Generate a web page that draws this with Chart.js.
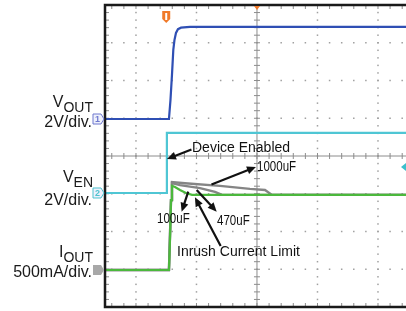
<!DOCTYPE html>
<html>
<head>
<meta charset="utf-8">
<script src="https://cdn.jsdelivr.net/npm/chart.js@4.4.1/dist/chart.umd.min.js"></script>
<style>
  html, body { margin: 0; padding: 0; background: #fff; }
  #scope { display: block; }
</style>
</head>
<body>
<canvas id="scope" width="406" height="311"></canvas>
<script>
// all values in scope divisions, centre of the screen = 0
const voutTime  = [-2.6, -1.455, -1.43, -1.405, -1.383, -1.364, -1.339, -1.306, -1.256, -1.107, 2.6];
const voutLevel = [0.98, 0.98, 1.48, 2.15, 2.81, 3.07, 3.26, 3.36, 3.40, 3.42, 3.42];

const venTime  = [-2.6, -1.49, -1.489, 2.6];
const venLevel = [-0.98, -0.98, 0.61, 0.61];

const ioutTime  = [-2.6, -1.455, -1.438, -1.421, -1.405, -1.355, -1.273, -1.174, -1.074, 2.6];
const ioutLevel = [-3.02, -3.02, -2.23, -1.17, -0.79, -0.82, -0.90, -0.98, -1.03, -1.03];

const i470Time  = [-2.6, -1.455, -1.421, -1.405, -1.273, -0.942, -0.694, -0.579, 2.6];
const i470Level = [-3.02, -3.02, -1.17, -0.72, -0.77, -0.85, -0.95, -1.03, -1.03];

const i1000Time  = [-2.6, -1.455, -1.421, -1.405, -1.19, -0.612, -0.116, 0.132, 0.248, 2.6];
const i1000Level = [-3.02, -3.02, -1.17, -0.69, -0.72, -0.79, -0.87, -0.90, -1.03, -1.03];

const channelNames   = ['V', 'V', 'I'];
const channelSubs    = ['OUT', 'EN', 'OUT'];
const channelScales  = ['2V/div.', '2V/div.', '500mA/div.'];
const channelOffsets = [0.98, -0.98, -3.02];
const channelMarks   = ['1', '2', ''];

const triggerTime = -1.5;
const triggerLevel = -0.29;

const noteTexts = ['Device Enabled', '1000uF', '100uF', '470uF', 'Inrush Current Limit'];

function pts(t, v) {
  return t.map((x, i) => ({ x: x, y: v[i] }));
}

function arrow(ctx, x1, y1, x2, y2) {
  const a = Math.atan2(y2 - y1, x2 - x1);
  const head = 9, half = 4;
  const c = Math.cos(a), s = Math.sin(a);
  ctx.beginPath();
  ctx.moveTo(x1, y1);
  ctx.lineTo(x2 - head * 0.7 * c, y2 - head * 0.7 * s);
  ctx.stroke();
  ctx.beginPath();
  ctx.moveTo(x2, y2);
  ctx.lineTo(x2 - head * c + half * s, y2 - head * s - half * c);
  ctx.lineTo(x2 - head * c - half * s, y2 - head * s + half * c);
  ctx.closePath();
  ctx.fill();
}

function drawGrid(chart) {
  const { ctx, chartArea: a, scales: { x, y } } = chart;
  ctx.save();
  ctx.fillStyle = '#a0a0a0';
  for (let gx = -2; gx <= 2; gx++) {
    if (gx === 0) continue;
    const px = x.getPixelForValue(gx);
    for (let k = -19; k <= 19; k++) {
      const py = y.getPixelForValue(k / 5);
      ctx.fillRect(px - 0.75, py - 0.75, 1.5, 1.5);
    }
  }
  for (let gy = -3; gy <= 3; gy++) {
    if (gy === 0) continue;
    const py = y.getPixelForValue(gy);
    for (let k = -14; k <= 14; k++) {
      const px = x.getPixelForValue(k / 5);
      if (px < a.left + 2 || px > a.right) continue;
      ctx.fillRect(px - 0.75, py - 0.75, 1.5, 1.5);
    }
  }
  const cx = x.getPixelForValue(0), cy = y.getPixelForValue(0);
  ctx.strokeStyle = '#8c8c8c';
  ctx.lineWidth = 1;
  ctx.beginPath();
  ctx.moveTo(cx, a.top); ctx.lineTo(cx, a.bottom);
  ctx.moveTo(a.left, cy); ctx.lineTo(a.right, cy);
  for (let k = -19; k <= 19; k++) {
    const py = y.getPixelForValue(k / 5);
    ctx.moveTo(cx - 3, py); ctx.lineTo(cx + 3, py);
    ctx.moveTo(a.left, py); ctx.lineTo(a.left + 4, py);
  }
  for (let k = -14; k <= 14; k++) {
    const px = x.getPixelForValue(k / 5);
    if (px < a.left + 2 || px > a.right) continue;
    ctx.moveTo(px, cy - 3); ctx.lineTo(px, cy + 3);
    ctx.moveTo(px, a.top); ctx.lineTo(px, a.top + 4);
    ctx.moveTo(px, a.bottom - 4); ctx.lineTo(px, a.bottom);
  }
  ctx.stroke();
  ctx.restore();
}

function drawFrame(chart) {
  const { ctx, chartArea: a } = chart;
  ctx.save();
  ctx.strokeStyle = '#1a1a1a';
  ctx.lineWidth = 2.5;
  ctx.beginPath();
  ctx.moveTo(a.right + 2, a.top);
  ctx.lineTo(a.left, a.top);
  ctx.lineTo(a.left, a.bottom);
  ctx.lineTo(a.right + 2, a.bottom);
  ctx.stroke();
  ctx.restore();
}

function drawMarkers(chart) {
  const { ctx, chartArea: a, scales: { x, y } } = chart;
  ctx.save();
  const colors = ['#6f79cf', '#4cc3cf', '#8f8f8f'];
  channelOffsets.forEach((off, i) => {
    const cy = y.getPixelForValue(off);
    const l = a.left - 12;
    ctx.beginPath();
    ctx.moveTo(l, cy - 5);
    ctx.lineTo(l + 8, cy - 5);
    ctx.lineTo(l + 11, cy);
    ctx.lineTo(l + 8, cy + 5);
    ctx.lineTo(l, cy + 5);
    ctx.closePath();
    if (channelMarks[i]) {
      ctx.fillStyle = '#eef0fb';
      ctx.fill();
      ctx.strokeStyle = colors[i];
      ctx.lineWidth = 1;
      ctx.stroke();
      ctx.fillStyle = colors[i];
      ctx.font = 'bold 9px "Liberation Sans"';
      ctx.textAlign = 'center';
      ctx.textBaseline = 'middle';
      ctx.fillText(channelMarks[i], l + 4.5, cy + 0.5);
    } else {
      ctx.fillStyle = '#a8a8a8';
      ctx.fill();
    }
  });
  // trigger position flag
  const tx = x.getPixelForValue(triggerTime);
  ctx.fillStyle = '#f07a2a';
  ctx.beginPath();
  ctx.moveTo(tx - 4, a.top + 6);
  ctx.lineTo(tx + 4, a.top + 6);
  ctx.lineTo(tx + 4, a.top + 14);
  ctx.lineTo(tx, a.top + 18);
  ctx.lineTo(tx - 4, a.top + 14);
  ctx.closePath();
  ctx.fill();
  ctx.fillStyle = '#fff';
  ctx.fillRect(tx - 1, a.top + 8, 2, 7);
  // horizontal position marker
  const cx = x.getPixelForValue(0);
  ctx.fillStyle = '#f07a2a';
  ctx.beginPath();
  ctx.moveTo(cx - 3, a.top + 1);
  ctx.lineTo(cx + 3, a.top + 1);
  ctx.lineTo(cx, a.top + 5);
  ctx.closePath();
  ctx.fill();
  // trigger level
  const ty = y.getPixelForValue(triggerLevel);
  ctx.fillStyle = '#3cbfcc';
  ctx.beginPath();
  ctx.moveTo(a.right - 5, ty);
  ctx.lineTo(a.right, ty - 4);
  ctx.lineTo(a.right, ty + 4);
  ctx.closePath();
  ctx.fill();
  ctx.restore();
}

function drawNotes(chart) {
  const { ctx, scales: { x, y } } = chart;
  const P = (t, v) => [x.getPixelForValue(t), y.getPixelForValue(v)];
  ctx.save();
  ctx.fillStyle = '#111';
  ctx.strokeStyle = '#111';
  ctx.lineWidth = 2.2;
  ctx.textBaseline = 'middle';
  ctx.textAlign = 'left';
  // capacitor labels use a condensed face, squeezed sideways
  const notes = [
    { text: noteTexts[0], size: 14, squeeze: 1,    at: [-1.074, 0.21],  from: [-1.083, 0.17],  to: [-1.488, -0.08] },
    { text: noteTexts[1], size: 15, squeeze: 0.77, at: [0.0, -0.28],    from: [-0.752, -0.755], to: [-0.017, -0.29] },
    { text: noteTexts[2], size: 15, squeeze: 0.77, at: [-1.653, -1.67], from: [-1.136, -0.945], to: [-1.245, -1.475] },
    { text: noteTexts[3], size: 15, squeeze: 0.77, at: [-0.661, -1.71], from: [-0.997, -0.90],  to: [-0.666, -1.475] },
    { text: noteTexts[4], size: 14, squeeze: 1,    at: [-1.322, -2.535], from: [-0.60, -2.385], to: [-1.025, -1.095] }
  ];
  notes.forEach(n => {
    const [a1, b1] = P(n.from[0], n.from[1]);
    const [a2, b2] = P(n.to[0], n.to[1]);
    arrow(ctx, a1, b1, a2, b2);
    const [tx, ty] = P(n.at[0], n.at[1]);
    ctx.save();
    ctx.font = n.size + 'px "Liberation Sans", Arial, sans-serif';
    ctx.translate(tx, ty);
    ctx.scale(n.squeeze, 1);
    ctx.fillText(n.text, 0, 0);
    ctx.restore();
  });
  ctx.restore();
}

function drawChannelLabels(chart) {
  const { ctx, chartArea: a, scales: { y } } = chart;
  const subDrop = [-7.5, -6, -8];
  const scaleDrop = [7.5, 12, 6.5];
  ctx.save();
  ctx.fillStyle = '#1a1a1a';
  ctx.textBaseline = 'alphabetic';
  ctx.textAlign = 'right';
  channelOffsets.forEach((off, i) => {
    const cy = y.getPixelForValue(off);
    const right = a.left - 12;
    ctx.font = '14px "Liberation Sans", Arial, sans-serif';
    const w = ctx.measureText(channelSubs[i]).width;
    ctx.fillText(channelSubs[i], right, cy + subDrop[i]);
    ctx.font = '16px "Liberation Sans", Arial, sans-serif';
    ctx.fillText(channelNames[i], right - w, cy + subDrop[i] - 5);
    ctx.fillText(channelScales[i], right - 1, cy + scaleDrop[i]);
  });
  ctx.restore();
}

const scopeDeco = {
  id: 'scopeDeco',
  beforeDatasetsDraw(chart) { drawGrid(chart); },
  afterDatasetsDraw(chart) {
    drawFrame(chart);
    drawMarkers(chart);
    drawNotes(chart);
    drawChannelLabels(chart);
  }
};

const line = (data, color, width) => ({
  data: data,
  borderColor: color,
  borderWidth: width,
  pointRadius: 0,
  tension: 0,
  fill: false
});

new Chart(document.getElementById('scope').getContext('2d'), {
  type: 'line',
  data: {
    datasets: [
      line(pts(voutTime, voutLevel), '#2f4fb4', 2.2),
      line(pts(venTime, venLevel), '#4fc6d4', 2.2),
      line(pts(ioutTime, ioutLevel), '#4bb83c', 2.2),
      line(pts(i470Time, i470Level), '#858585', 2.4),
      line(pts(i1000Time, i1000Level), '#858585', 2.4)
    ]
  },
  options: {
    responsive: false,
    animation: false,
    layout: { padding: { left: 105, top: 5, right: 0, bottom: 4 } },
    plugins: { legend: { display: false }, tooltip: { enabled: false } },
    scales: {
      x: { type: 'linear', min: -2.512, max: 2.463, display: false },
      y: { type: 'linear', min: -4, max: 4, display: false }
    }
  },
  plugins: [scopeDeco]
});
</script>
</body>
</html>
